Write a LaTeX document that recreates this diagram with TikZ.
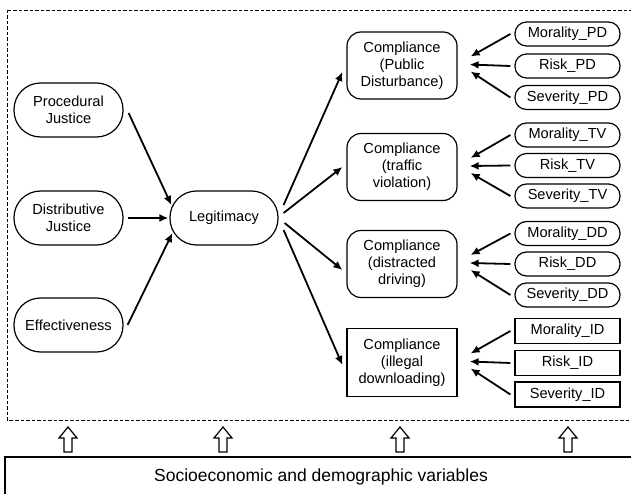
\documentclass[tikz,border=0pt]{standalone}
\usepackage{fontspec}
\setmainfont{Liberation Sans}
\usetikzlibrary{arrows.meta,calc}
\begin{document}
\begin{tikzpicture}[x=1pt,y=-1pt,
  base/.style={draw, line width=1.2pt, align=center, inner sep=0pt, font=\fontsize{14.6}{17.2}\selectfont},
  stad/.style={base, minimum width=109pt, minimum height=54pt, rounded corners=26.5pt},
  comp/.style={base, minimum width=110pt, minimum height=67pt, rounded corners=14pt},
  compsq/.style={base, minimum width=110pt, minimum height=68pt},
  small/.style={base, minimum width=105pt, minimum height=24pt, rounded corners=11.5pt},
  smallsq/.style={base, minimum width=105pt, minimum height=25pt},
  arr/.style={line width=1.8pt, -{Latex[length=9pt,width=8pt]}},
  uparr/.style={draw, line width=1.2pt, fill=white, line join=miter},
  frame/.style={draw, line width=0.9pt, dash pattern=on 3.5pt off 2pt}
]
\clip (0,0) rectangle (631,494);
\fill[white] (0,0) rectangle (631,494);

% dashed frame
\draw[frame] (7,10) rectangle (633,420);

% left nodes
\node[stad] (pj) at (68.5,110) {Procedural\\Justice};
\node[stad] (dj) at (68.5,218) {Distributive\\Justice};
\node[stad] (ef) at (68.5,325) {Effectiveness};
\node[stad, minimum width=108pt] (leg) at (224,218) {Legitimacy};

% compliance nodes
\node[comp] (cPD) at (402,65.5) {Compliance\\(Public\\Disturbance)};
\node[comp] (cTV) at (402,167) {Compliance\\(traffic\\violation)};
\node[comp] (cDD) at (402,264) {Compliance\\(distracted\\driving)};
\node[compsq] (cID) at (402,362.5) {Compliance\\(illegal\\downloading)};

% right nodes
\node[small] (mPD) at (567.5,34) {Morality\_PD};
\node[small] (rPD) at (567.5,66) {Risk\_PD};
\node[small] (sPD) at (567.5,97.5) {Severity\_PD};
\node[small] (mTV) at (567.5,135) {Morality\_TV};
\node[small] (rTV) at (567.5,165.5) {Risk\_TV};
\node[small] (sTV) at (567.5,196) {Severity\_TV};
\node[small] (mDD) at (567.5,233.5) {Morality\_DD};
\node[small] (rDD) at (567.5,264) {Risk\_DD};
\node[small] (sDD) at (567.5,295) {Severity\_DD};
\node[smallsq] (mID) at (567.5,331) {Morality\_ID};
\node[smallsq] (rID) at (567.5,363) {Risk\_ID};
\node[smallsq] (sID) at (567.5,394.5) {Severity\_ID};

% bottom box
\node[draw, line width=1.8pt, minimum width=632pt, minimum height=40pt, inner sep=0pt,
      font=\fontsize{17.5}{20}\selectfont] (soc) at (321,477) {Socioeconomic and demographic variables};

% arrows into legitimacy
\draw[arr] ([xshift=5pt,yshift=-3pt]pj.east) -- ([xshift=2pt,yshift=13pt]leg.west);
\draw[arr] ([xshift=4pt]dj.east) -- ([xshift=-1pt]leg.west);
\draw[arr] ([xshift=4pt]ef.east) -- ([xshift=3pt,yshift=-15pt]leg.west);

% arrows out of legitimacy
\draw[arr] ([xshift=5pt,yshift=13pt]leg.east) -- ([xshift=-4pt,yshift=-6.5pt]cPD.west);
\draw[arr] ([xshift=5pt,yshift=5pt]leg.east) -- ([xshift=-4pt]cTV.west);
\draw[arr] ([xshift=6pt,yshift=-5pt]leg.east) -- ([xshift=-4pt,yshift=-6pt]cDD.west);
\draw[arr] ([xshift=5pt,yshift=-12pt]leg.east) -- ([xshift=-4pt,yshift=-2.5pt]cID.west);

% arrows from indicators
\foreach \g in {PD,TV,DD,ID}{
  \draw[arr] ([xshift=-4pt]m\g.west) -- ([xshift=13pt,yshift=9pt]c\g.east);
  \draw[arr] ([xshift=-4pt]r\g.west) -- ([xshift=12pt,yshift=1pt]c\g.east);
  \draw[arr] ([xshift=-4pt]s\g.west) -- ([xshift=13pt,yshift=-6pt]c\g.east);
}

% open up arrows
\foreach \x in {68,223,400,568}{
  \draw[uparr] (\x,427) -- (\x+9,438) -- (\x+4,438) -- (\x+4,452) -- (\x-4,452) -- (\x-4,438) -- (\x-9,438) -- cycle;
}
\end{tikzpicture}
\end{document}
